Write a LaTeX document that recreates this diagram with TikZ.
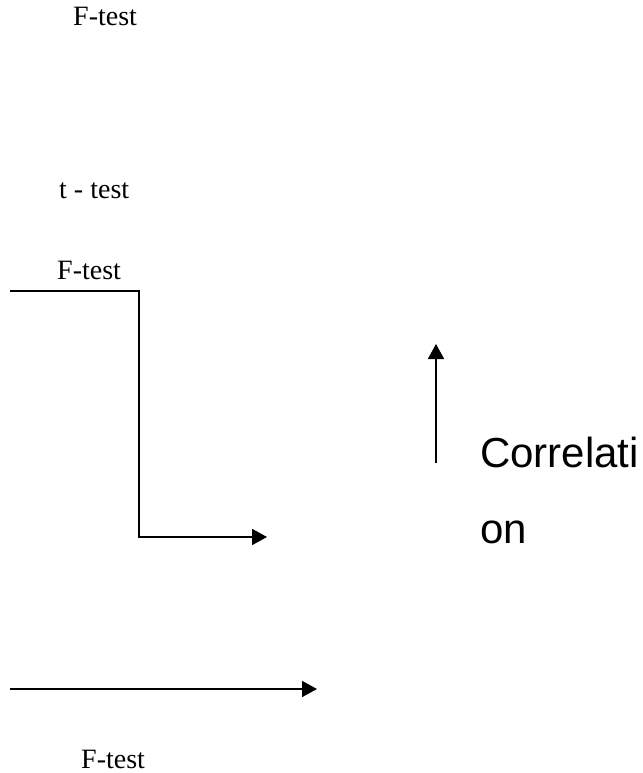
\documentclass[tikz,border=0pt]{standalone}
\usepackage{fontspec}
\setmainfont{Liberation Serif}
\newfontfamily\arialfont{Liberation Sans}
\usetikzlibrary{arrows.meta}
\begin{document}
\begin{tikzpicture}[x=1pt,y=-1pt,
  lbl/.style={inner sep=0pt, anchor=base west, font=\fontsize{28}{34}\selectfont},
  big/.style={inner sep=0pt, anchor=base west, font=\arialfont\fontsize{42}{50}\selectfont},
  conn/.style={line width=1.8pt, line join=miter},
  arr/.style={conn, -{Triangle[length=15pt,width=16pt]}}]
\useasboundingbox (0,0) rectangle (642,773);
\node[lbl] (f1) at (73,26) {F-test};
\node[lbl] (t1) at (59,198) {t - test};
\node[lbl] (f2) at (57,279) {F-test};
\node[lbl] (f3) at (81,768) {F-test};
\node[big] (c1) at (480,467) {Correlati};
\node[big] (c2) at (480,543) {on};
\coordinate (a) at (10,291);
\coordinate (b) at (139,291);
\coordinate (c) at (139,537);
\coordinate (d) at (267,537);
\draw[arr] (a) -- (b) -- (c) -- (d);
\coordinate (e) at (436,463);
\coordinate (f) at (436,344);
\draw[arr] (e) -- (f);
\coordinate (g) at (10,689);
\coordinate (h) at (317,689);
\draw[arr] (g) -- (h);
\end{tikzpicture}
\end{document}
